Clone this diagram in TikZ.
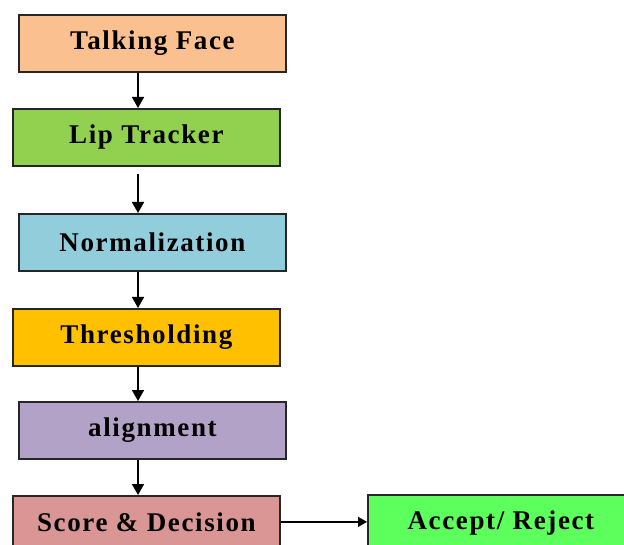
\documentclass[tikz,border=0pt]{standalone}
\usepackage{fontspec}
\setmainfont{Liberation Serif}
\newfontfamily\boxfont[LetterSpace=6]{Liberation Serif}
\usetikzlibrary{arrows.meta}
\definecolor{cPeach}{HTML}{FAC090}
\definecolor{cGreen}{HTML}{92D050}
\definecolor{cBlue}{HTML}{92CDDC}
\definecolor{cOrange}{HTML}{FFC000}
\definecolor{cPurple}{HTML}{B3A2C7}
\definecolor{cRose}{HTML}{D99694}
\definecolor{cLime}{HTML}{5CFF5C}
\definecolor{cEdge}{HTML}{262626}
\tikzset{
  stagebox/.style={draw=cEdge, line width=1.8pt, rectangle, anchor=north west,
    minimum width=267pt, minimum height=57pt, inner sep=0pt,
    font=\boxfont\fontsize{27}{30}\selectfont\bfseries, text=black},
  flow/.style={draw=black, line width=1.6pt, -{Triangle[length=11pt,width=12pt]}},
  sideflow/.style={draw=black, line width=1.4pt, -{Triangle[length=9pt,width=10pt]}},
}
\begin{document}
\begin{tikzpicture}[x=1pt, y=-1pt]
  \useasboundingbox (0,0) rectangle (624,545);
  \begin{scope}
    \clip (0,0) rectangle (624,545);
    \node[stagebox, fill=cPeach]  (tf) at (18,14)  {Talking Face};
    \node[stagebox, fill=cGreen]  (lt) at (12,108) {Lip Tracker};
    \node[stagebox, fill=cBlue]   (nm) at (18,213) {Normalization};
    \node[stagebox, fill=cOrange] (th) at (12,308) {Thresholding};
    \node[stagebox, fill=cPurple] (al) at (18,401) {alignment};
    \node[stagebox, fill=cRose, minimum height=52pt] (sd) at (12,495) {Score \& Decision};
    \node[stagebox, fill=cLime, minimum width=266pt, minimum height=56pt] (ar) at (367,494) {Accept/ Reject};

    % vertical spine of the pipeline
    \coordinate (spine) at (138,0);
    \draw[flow] (tf.south -| spine) -- (lt.north -| spine);
    \draw[flow, shorten <=7pt] (lt.south -| spine) -- (nm.north -| spine);
    \draw[flow] (nm.south -| spine) -- (th.north -| spine);
    \draw[flow] (th.south -| spine) -- (al.north -| spine);
    \draw[flow] (al.south -| spine) -- (sd.north -| spine);
    \draw[sideflow] (sd.east) -- (ar.west |- sd.east);
  \end{scope}
\end{tikzpicture}
\end{document}
